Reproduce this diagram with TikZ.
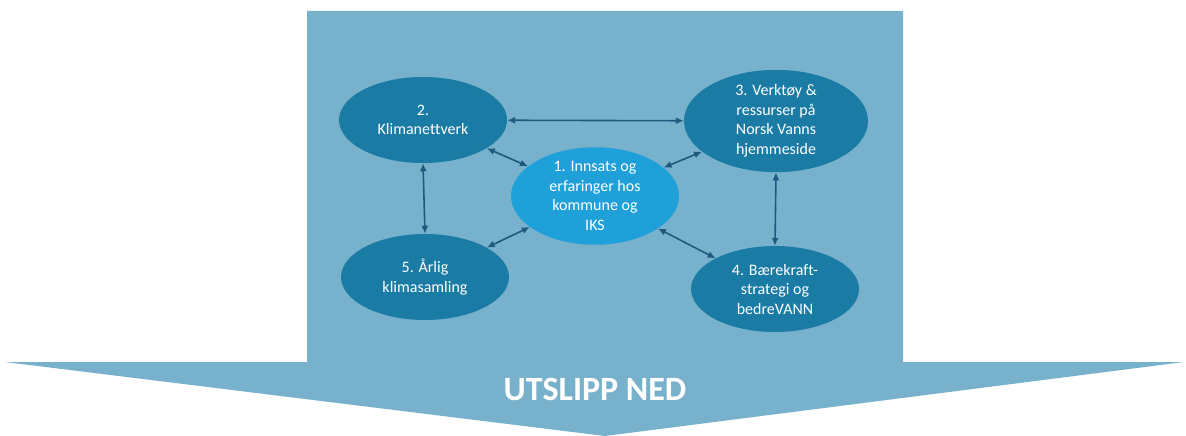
\documentclass[tikz,border=0pt]{standalone}
\usepackage{fontspec}
\setmainfont{Carlito}[Ligatures=NoCommon]
\usetikzlibrary{shapes.geometric,arrows.meta}
\definecolor{skyback}{HTML}{78B1CB}
\definecolor{deepblob}{HTML}{1A7BA5}
\definecolor{brightblob}{HTML}{1FA0D8}
\definecolor{linkblue}{HTML}{1D5A7E}

\begin{document}
\begin{tikzpicture}[x=1pt,y=-1pt,
	blob/.style={ellipse, fill=deepblob, draw=none, text=white, align=center,
		inner sep=0pt, minimum width=168pt, minimum height=86pt,
		font=\fontsize{16}{19.5}\selectfont},
	link/.style={draw=linkblue, line width=1.6pt, {Latex[length=8pt,width=7pt]}-{Latex[length=8pt,width=7pt]}}]
	\useasboundingbox (0,0) rectangle (1186,436);

	% broad arrow
	\fill[skyback] (307,11) -- (903,11) -- (903,362) -- (1184,362) -- (605,436) -- (5,362) -- (307,362) -- cycle;
	\node[text=white, font=\bfseries\fontsize{34}{38}\selectfont] (utslipp) at (595,389) {UTSLIPP NED};

	\node[blob, fill=brightblob, minimum height=66pt] (innsats) at (595,196) {1. Innsats og\\erfaringer hos\\kommune og\\IKS};
	\node[blob] (nettverk) at (423,120) {2.\\Klimanettverk};
	\node[blob, minimum width=184pt] (verktoy) at (776,121) {3. Verktøy \&\\ressurser på\\Norsk Vanns\\hjemmeside};
	\node[blob] (strategi) at (775,289) {4. Bærekraft-\\strategi og\\bedreVANN};
	\node[blob] (samling) at (425,277) {5. Årlig\\klimasamling};

	\draw[link] (nettverk) -- (verktoy);
	\draw[link] (nettverk) -- (innsats);
	\draw[link] (verktoy) -- (innsats);
	\draw[link] (nettverk.south) -- (samling.north);
	\draw[link] (verktoy.south) -- (strategi.north);
	\draw[link] (samling) -- (innsats);
	\draw[link] (strategi) -- (innsats);
\end{tikzpicture}
\end{document}
